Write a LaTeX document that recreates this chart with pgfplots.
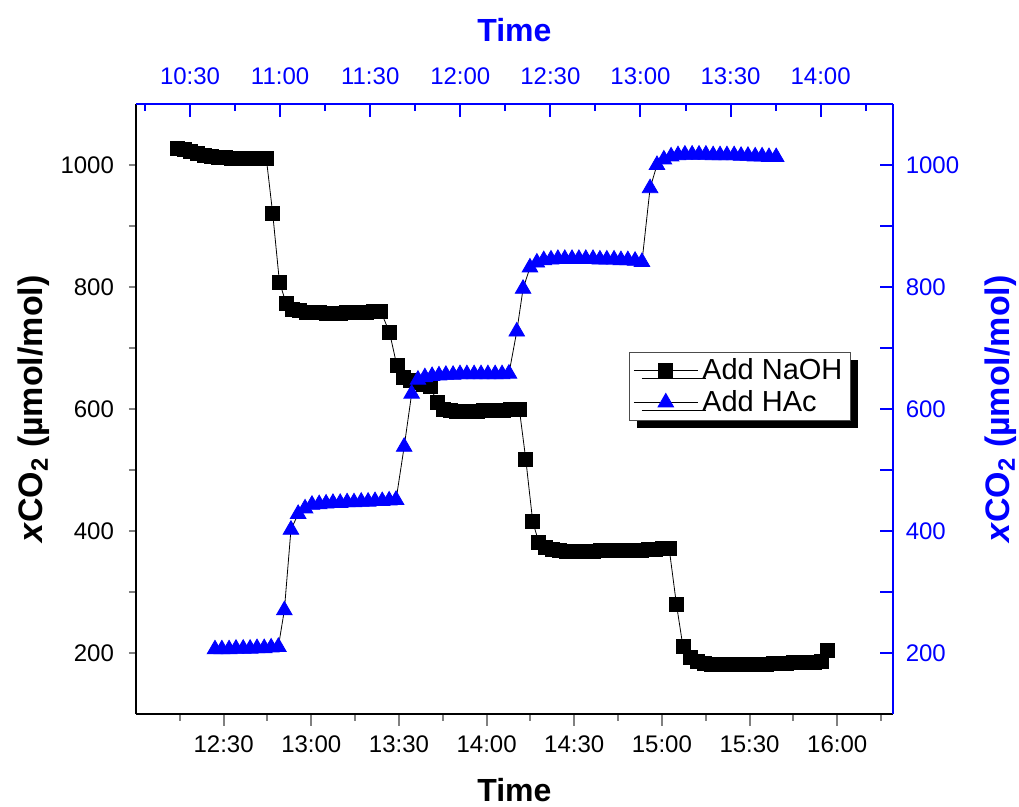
\documentclass[border=0pt]{standalone}
\usepackage{fontspec}
\setmainfont{Liberation Sans}
\usepackage{pgfplots}
\pgfplotsset{compat=1.18}
\usetikzlibrary{shadows}

\pgfplotsset{
  base/.style={
    scale only axis, width=378.35pt, height=305pt,
    at={(0,0)}, anchor=south west,
    ymin=100, ymax=1100,
    axis line style={line width=1pt},
    tick style={line width=1pt},
    ticklabel style={font=\fontsize{12}{14}\selectfont},
    /pgf/number format/assume math mode=true,
    clip=false,
  },
}

\begin{document}
\begin{tikzpicture}
\useasboundingbox (-68pt,-46.5pt) rectangle (441.5pt,357pt);

% bottom time axis, NaOH series
\begin{axis}[base,
  xmin=720, xmax=979,
  axis x line*=bottom, axis y line=none,
  tick align=outside, major tick length=6pt, minor tick length=3.5pt,
  xtick={750,780,...,960},
  xticklabels={12:30,13:00,13:30,14:00,14:30,15:00,15:30,16:00},
  minor xtick={735,765,...,975},
  xticklabel style={yshift=-1.5pt},
  xlabel={Time},
  xlabel style={at={(axis description cs:0.5,-0.125)}, anchor=center,
    font=\bfseries\fontsize{16}{18}\selectfont},
]
\addplot[black, line width=0.4pt, mark=square*, mark size=3.5pt, mark options={solid, fill=black}] coordinates {
(734.0,1027) (736.4,1025) (738.7,1022) (741.1,1019) (743.4,1016) (745.8,1014)
(748.1,1013) (750.5,1012) (752.8,1011) (755.2,1011) (757.5,1011) (759.9,1011)
(762.2,1011) (764.6,1011) (766.8,920) (769.1,808) (771.4,773) (773.7,764)
(776.0,761) (778.3,759) (780.6,758) (782.9,758) (785.2,757) (787.5,757)
(789.8,757) (792.1,758) (794.4,758) (796.7,759) (799.0,759) (801.3,760)
(803.8,760) (806.8,725) (809.3,671) (811.6,652) (813.9,647) (816.2,644)
(818.5,641) (820.8,637) (823.0,611) (825.2,600) (827.5,597) (829.8,596)
(832.1,596) (834.4,596) (836.7,596) (839.0,597) (841.3,597) (843.6,598)
(845.9,598) (848.2,599) (851.2,600) (853.4,518) (855.8,415) (857.9,381)
(860.2,373) (862.5,370) (864.9,368) (867.2,367) (869.6,367) (871.9,367)
(874.3,367) (876.6,367) (879.0,368) (881.3,368) (883.7,368) (886.0,368)
(888.4,369) (890.7,369) (893.1,369) (895.4,370) (897.8,370) (900.1,371)
(902.5,371) (905.0,279) (907.2,211) (909.9,193) (912.2,186) (914.5,183)
(916.9,182) (919.2,181) (921.6,181) (923.9,181) (926.3,181) (928.6,182)
(931.0,182) (933.3,182) (935.7,182) (938.0,183) (940.4,183) (942.7,183)
(945.1,184) (947.4,184) (949.8,185) (952.1,185) (954.5,186) (956.8,205)
};
\end{axis}

% left axis
\begin{axis}[base,
  xmin=0, xmax=1,
  axis x line=none, axis y line*=left,
  tick align=outside, major tick length=3.5pt,
  ytick={200,300,...,1000},
  yticklabels={200,,400,,600,,800,,1000},
  yticklabel style={xshift=-4pt},
  ylabel={\textit{x}CO\textsubscript{2} (µmol/mol)},
  ylabel style={at={(axis description cs:-0.135,0.5)}, anchor=center,
    font=\bfseries\fontsize{17}{20}\selectfont},
]
\end{axis}

% right axis
\begin{axis}[base,
  xmin=0, xmax=1,
  axis x line=none, axis y line*=right,
  axis line style={blue},
  tick align=inside, major tick length=6.5pt,
  tick style={blue},
  ytick={200,300,...,1000},
  yticklabels={200,,400,,600,,800,,1000},
  yticklabel style={blue, xshift=3pt},
  ylabel={\textit{x}CO\textsubscript{2} (µmol/mol)},
  ylabel style={at={(axis description cs:1.143,0.5)}, anchor=center, blue,
    font=\bfseries\fontsize{17}{20}\selectfont},
]
\end{axis}

% top time axis, HAc series
\begin{axis}[base,
  xmin=612, xmax=864,
  axis x line*=top, axis y line=none,
  axis line style={blue},
  tick align=inside, major tick length=6.5pt, minor tick length=3.5pt,
  tick style={blue},
  xtick={630,660,...,840},
  xticklabels={10:30,11:00,11:30,12:00,12:30,13:00,13:30,14:00},
  minor xtick={615,645,...,855},
  xticklabel style={blue, yshift=6pt},
  xlabel={Time},
  xlabel style={at={(axis description cs:0.5,1.121)}, anchor=center, blue,
    font=\bfseries\fontsize{16}{18}\selectfont},
  legend image code/.code={\draw[mark repeat=2,mark phase=2,#1] plot coordinates {(0pt,0pt) (16pt,0pt) (32pt,0pt)};},
  legend style={at={(axis description cs:0.6515,0.5934)}, anchor=north west,
    draw=black!70, thin, fill=white,
    font=\fontsize{14.5}{16}\selectfont, cells={anchor=west},
    inner xsep=2pt, inner ysep=1pt,
    drop shadow={shadow xshift=4pt, shadow yshift=-4pt, fill=black, opacity=1}},
]
\addlegendimage{black, line width=0.4pt, mark=square*, mark size=3.5pt, mark options={solid, fill=black}}
\addlegendentry{Add NaOH}
\addplot[black, line width=0.4pt, mark=triangle*, mark size=4.5pt, mark options={solid, blue, fill=blue}] coordinates {
(638.3,206) (640.6,206) (643.0,206) (645.3,207) (647.7,207) (650.0,207)
(652.3,208) (654.7,208) (657.0,209) (659.4,210) (661.4,270) (663.6,402)
(666.0,428) (668.3,437) (670.6,443) (673.0,444) (675.3,445) (677.6,446)
(680.0,446) (682.3,447) (684.6,447) (687.0,448) (689.3,448) (691.6,449)
(694.0,449) (696.3,450) (698.6,451) (701.3,538) (703.8,625) (705.9,648)
(708.2,652) (710.6,654) (712.9,655) (715.2,656) (717.6,656) (719.9,657)
(722.2,657) (724.6,657) (726.9,657) (729.2,657) (731.6,657) (733.9,657)
(736.2,658) (738.8,727) (740.9,797) (743.2,832) (745.5,840) (747.8,844)
(750.2,845) (752.5,846) (754.8,846) (757.2,846) (759.5,846) (761.8,846)
(764.2,846) (766.5,845) (768.8,845) (771.2,845) (773.5,844) (775.8,844)
(778.2,843) (780.5,841) (783.2,962) (785.5,1000) (787.8,1009) (790.2,1014)
(792.5,1016) (794.8,1017) (797.2,1017) (799.5,1017) (801.8,1017) (804.2,1016)
(806.5,1016) (808.8,1016) (811.2,1016) (813.5,1015) (815.8,1015) (818.2,1014)
(820.5,1014) (822.8,1013) (825.2,1013)
};
\addlegendentry{Add HAc}
\end{axis}
\end{tikzpicture}
\end{document}
